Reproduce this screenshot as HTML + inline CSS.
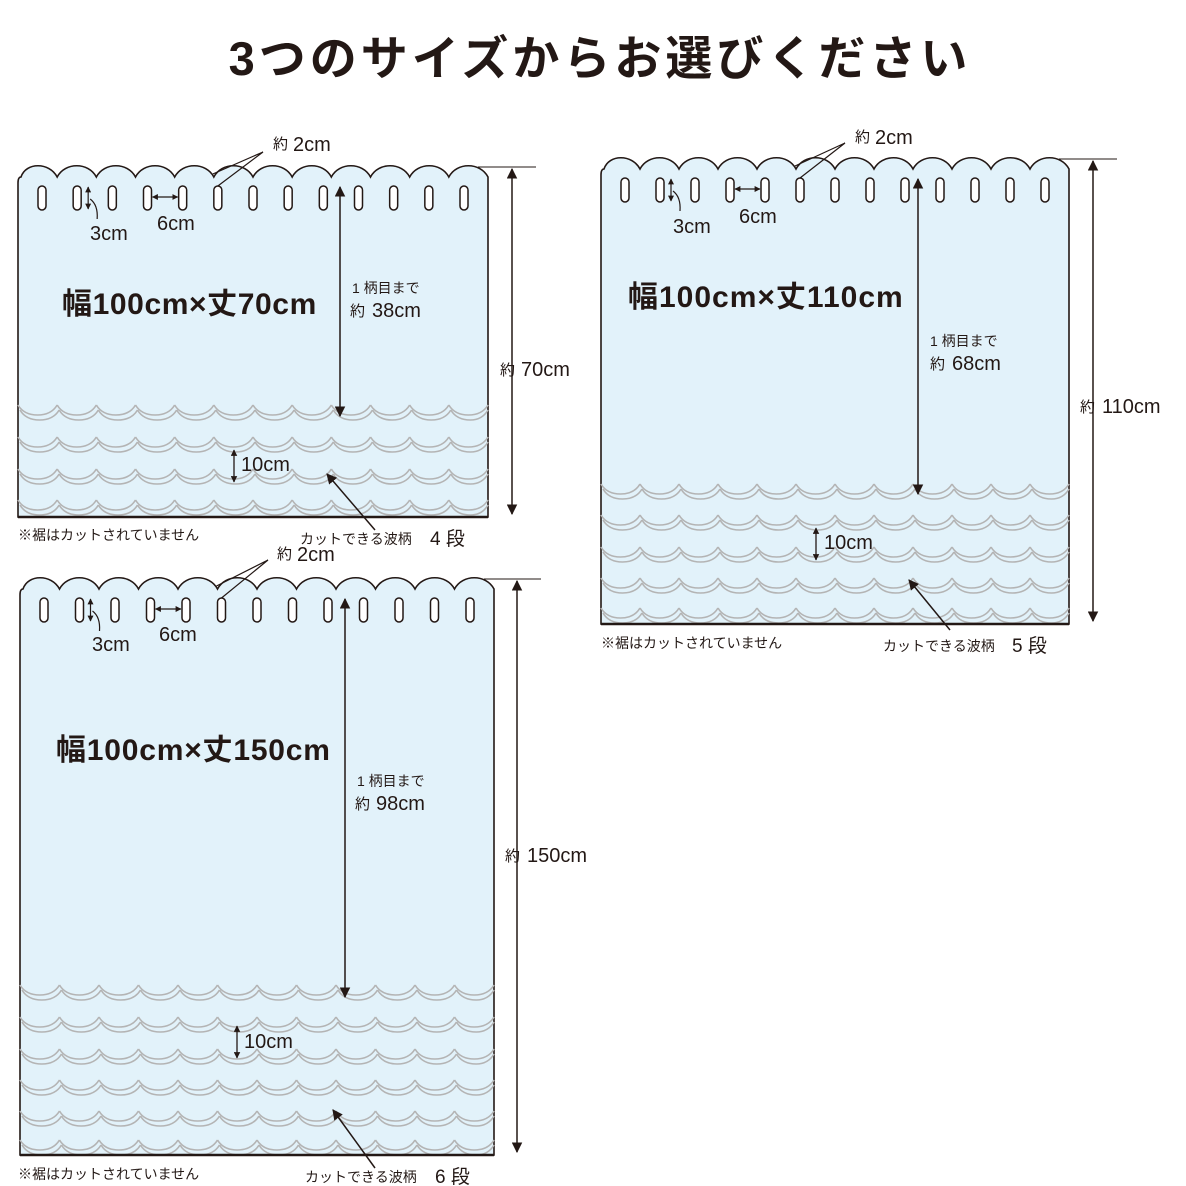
<!DOCTYPE html>
<html><head><meta charset="utf-8"><style>
html,body{margin:0;padding:0;background:#fff}
svg{display:block}
text{font-family:"Liberation Sans","Noto Sans CJK JP",sans-serif;fill:#231815}
</style></head><body>
<svg id="s" width="1186" height="1186" viewBox="0 0 1186 1186" xmlns="http://www.w3.org/2000/svg">
<defs>
<marker id="ah" viewBox="0 0 10 10" refX="9" refY="5" markerWidth="7" markerHeight="7" orient="auto-start-reverse"><path d="M0,0 L10,5 L0,10 z" fill="#231815"/></marker>
<marker id="as" viewBox="0 0 10 10" refX="9" refY="5" markerWidth="5" markerHeight="5" orient="auto-start-reverse"><path d="M0,0 L10,5 L0,10 z" fill="#231815"/></marker>
</defs>
<g id="shapes"></g>
<text x="600" y="75" font-size="47" font-weight="bold" text-anchor="middle" letter-spacing="4">3つのサイズからお選びください</text>

<!-- A -->
<text x="273" y="149" font-size="15">約</text><text x="293" y="151" font-size="20">2cm</text>
<text x="90" y="240" font-size="20">3cm</text>
<text x="157" y="230" font-size="20">6cm</text>
<text x="62" y="314" font-size="30" font-weight="bold" letter-spacing="0.6">幅100cm×丈70cm</text>
<text x="352" y="293" font-size="14">1 柄目まで</text>
<text x="350" y="316" font-size="15">約</text><text x="372" y="317" font-size="20">38cm</text>
<text x="500" y="375" font-size="15">約</text><text x="521" y="376" font-size="20">70cm</text>
<text x="241" y="471" font-size="20">10cm</text>
<text x="18" y="540" font-size="14">※裾はカットされていません</text>
<text x="300" y="544" font-size="14">カットできる波柄</text><text x="430" y="545" font-size="19">4 段</text>

<!-- B -->
<text x="855" y="142" font-size="15">約</text><text x="875" y="144" font-size="20">2cm</text>
<text x="673" y="233" font-size="20">3cm</text>
<text x="739" y="223" font-size="20">6cm</text>
<text x="628" y="307" font-size="30" font-weight="bold" letter-spacing="1">幅100cm×丈110cm</text>
<text x="930" y="346" font-size="14">1 柄目まで</text>
<text x="930" y="369" font-size="15">約</text><text x="952" y="370" font-size="20">68cm</text>
<text x="1080" y="412" font-size="15">約</text><text x="1102" y="413" font-size="20">110cm</text>
<text x="824" y="549" font-size="20">10cm</text>
<text x="601" y="648" font-size="14">※裾はカットされていません</text>
<text x="883" y="651" font-size="14">カットできる波柄</text><text x="1012" y="652" font-size="19">5 段</text>

<!-- C -->
<text x="277" y="559" font-size="15">約</text><text x="297" y="561" font-size="20">2cm</text>
<text x="92" y="651" font-size="20">3cm</text>
<text x="159" y="641" font-size="20">6cm</text>
<text x="56" y="760" font-size="30" font-weight="bold" letter-spacing="0.8">幅100cm×丈150cm</text>
<text x="357" y="786" font-size="14">1 柄目まで</text>
<text x="355" y="809" font-size="15">約</text><text x="376" y="810" font-size="20">98cm</text>
<text x="505" y="861" font-size="15">約</text><text x="527" y="862" font-size="20">150cm</text>
<text x="244" y="1048" font-size="20">10cm</text>
<text x="18" y="1179" font-size="14">※裾はカットされていません</text>
<text x="305" y="1182" font-size="14">カットできる波柄</text><text x="435" y="1183" font-size="19">6 段</text>
</svg>
<script>
var NS="http://www.w3.org/2000/svg",g=document.getElementById("shapes");
function el(t,a){var e=document.createElementNS(NS,t);for(var k in a)e.setAttribute(k,a[k]);g.appendChild(e);return e}
function curtain(c){
 var x0=c.x0,x1=c.x1,top=c.top,bot=c.bot,n=12,P=(x1-x0)/n;
 var d="M"+x0+","+bot+" L"+x0+","+(top+6)+" Q"+x0+","+top+" "+(x0+3)+","+top;
 for(var i=0;i<n;i++){var a=x0+i*P,b=a+P;d+=" C"+(a+P*0.2)+","+(top-15)+" "+(b-P*0.2)+","+(top-15)+" "+b+","+top;}
 d+=" L"+x1+","+bot+" Z";
 el("path",{d:d,fill:"#e2f2fa",stroke:"#231815","stroke-width":1.6});
 for(var i=0;i<13;i++){var cx=x0+24+i*(x1-x0-48)/12;el("rect",{x:cx-4,y:top+9,width:8,height:24,rx:4,fill:"#fff",stroke:"#231815","stroke-width":1.5});}
 c.rows.forEach(function(y){
  [0,5].forEach(function(off){
   var d="";for(var i=0;i<n;i++){var a=x0+i*P+(off?2:0),b=Math.min(a+P,x1);d+="M"+a+","+(y+off)+" Q"+(a+P*0.15)+","+(y+off+10)+" "+(a+P/2)+","+(y+off+10)+" Q"+(b-P*0.15)+","+(y+off+10)+" "+b+","+(y+off);}
   el("path",{d:d,fill:"none",stroke:"#b4b4b4","stroke-width":1.6});
  });
 });
 el("line",{x1:x0,y1:bot,x2:x1,y2:bot,stroke:"#231815","stroke-width":2.5});
 el("line",{x1:c.dx,y1:top-8,x2:c.dx,y2:bot-3,stroke:"#231815","stroke-width":1.5,"marker-start":"url(#ah)","marker-end":"url(#ah)"});
 el("line",{x1:x1-10,y1:top-10,x2:c.dx+24,y2:top-10,stroke:"#231815","stroke-width":1});
 el("line",{x1:c.mx,y1:top+10,x2:c.mx,y2:c.my,stroke:"#231815","stroke-width":1.5,"marker-start":"url(#ah)","marker-end":"url(#ah)"});
 el("line",{x1:c.tx,y1:c.ty,x2:c.tx,y2:c.ty+32,stroke:"#231815","stroke-width":1.3,"marker-start":"url(#as)","marker-end":"url(#as)"});
 var s1=x0+24+(x1-x0-48)/12*1+11;
 el("line",{x1:s1,y1:top+10,x2:s1,y2:top+32,stroke:"#231815","stroke-width":1.2,"marker-start":"url(#as)","marker-end":"url(#as)"});
 el("path",{d:"M"+(s1+2)+","+(top+22)+" Q"+(s1+10)+","+(top+28)+" "+(s1+9)+","+(top+42),fill:"none",stroke:"#231815","stroke-width":1.2});
 var sa=x0+24+(x1-x0-48)/12*3+5,sb=x0+24+(x1-x0-48)/12*4-5;
 el("line",{x1:sa,y1:top+20,x2:sb,y2:top+20,stroke:"#231815","stroke-width":1.2,"marker-start":"url(#as)","marker-end":"url(#as)"});
 var lx=c.lx,ly=c.ly,sx=x0+24+(x1-x0-48)/12*5;
 el("polyline",{points:(sx-5)+","+(top-3)+" "+lx+","+ly+" "+sx+","+(top+9),fill:"none",stroke:"#231815","stroke-width":1.2});
 el("line",{x1:c.wa[0],y1:c.wa[1],x2:c.wa[2],y2:c.wa[3],stroke:"#231815","stroke-width":1.5,"marker-end":"url(#ah)"});
}
curtain({x0:18,x1:488,top:177,bot:517,rows:[405,437,469,500],dx:512,mx:340,my:416,tx:234,ty:450,lx:263,ly:152,wa:[375,530,327,474]});
curtain({x0:601,x1:1069,top:169,bot:624,rows:[484,515,547,578,608],dx:1093,mx:918,my:494,tx:816,ty:528,lx:845,ly:143,wa:[950,630,909,580]});
curtain({x0:20,x1:494,top:589,bot:1155,rows:[985,1017,1049,1080,1111,1140],dx:517,mx:345,my:997,tx:237,ty:1026,lx:268,ly:560,wa:[375,1168,333,1110]});
</script>
</body></html>
